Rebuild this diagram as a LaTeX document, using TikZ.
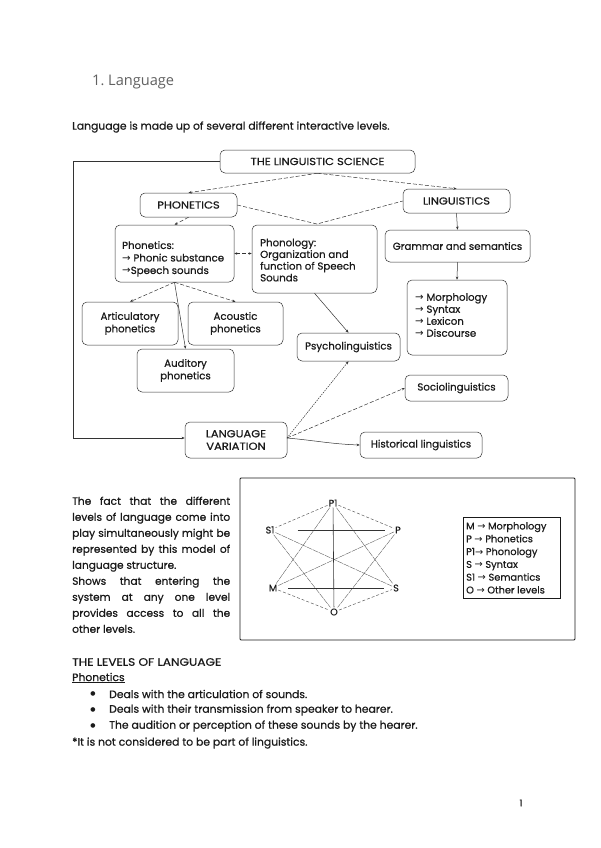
\documentclass[tikz,border=0pt]{standalone}
\usepackage{fontspec}
\setmainfont{Poppins}[FakeBold=0.6]
\newfontfamily\titlefont{Open Sans}
\newfontfamily\symfont{DejaVu Sans}
\usetikzlibrary{arrows.meta}
\newcommand{\rarr}{{\symfont\char"2192}}
\newcommand{\wide}[1]{\scalebox{1.13}[1]{#1}}
\newcommand{\jl}[1]{\makebox[158pt][l]{#1}}
\definecolor{ink}{HTML}{1A1A1A}
\definecolor{lineclr}{HTML}{333333}
\begin{document}
\begin{tikzpicture}[x=1pt,y=-1pt,
  box/.style={draw=lineclr, rounded corners=5pt, line width=0.5pt, inner sep=2pt,
    font=\fontsize{10.2}{12.5}\selectfont, text=ink, align=center},
  txt/.style={inner sep=0pt, text=ink, align=left},
  tip/.style={-{Stealth[length=3.2pt,width=2.6pt]}},
  conn/.style={draw=lineclr, line width=0.5pt},
  dconn/.style={conn, dash pattern=on 4pt off 2pt},
  dotconn/.style={conn, dash pattern=on 1.5pt off 1pt},
  star/.style={inner sep=1pt, text=ink, font=\fontsize{9.6}{11}\selectfont},
  sline/.style={draw=lineclr, line width=0.4pt},
  sdash/.style={draw=lineclr!80, line width=0.5pt, dash pattern=on 3pt off 2pt},
  sthin/.style={draw=lineclr!85, line width=0.35pt, dash pattern=on 6pt off 0.8pt},
  body/.style={txt, font=\fontsize{10.8}{13}\selectfont},
]
\path[fill=white] (0,0) rectangle (600,848);

% title and intro
\node[txt, anchor=west, font=\titlefont\fontsize{14.6}{18}\selectfont, text=black!62] (title) at (92,82) {1.\ Language};
\node[body, anchor=west] (intro) at (72,127) {Language is made up of several different interactive levels.};

% ---------- top diagram ----------
\node[box, minimum width=195pt, minimum height=23pt] (sci) at (317.5,161.5) {\wide{THE LINGUISTIC SCIENCE}};
\node[box, minimum width=97pt, minimum height=24pt] (phon) at (188.5,205) {\wide{PHONETICS}};
\node[box, minimum width=107pt, minimum height=24pt] (ling) at (456.5,201) {\wide{LINGUISTICS}};
\node[box, minimum width=119pt, minimum height=57pt] (phs) at (174.5,253.5) {};
\node[txt, anchor=north west, font=\fontsize{10.2}{12.5}\selectfont] (phst) at (122,241) {Phonetics:\\\rarr{} Phonic substance\\\rarr Speech sounds};
\node[box, minimum width=125pt, minimum height=68pt] (phl) at (314.5,259) {};
\node[txt, anchor=north west, font=\fontsize{10.2}{11.7}\selectfont] (phlt) at (260,238.5) {Phonology:\\Organization and\\function of Speech\\Sounds};
\node[box, minimum width=145pt, minimum height=32pt] (gram) at (457.5,246) {Grammar and semantics};
\node[box, minimum width=100pt, minimum height=75pt] (morph) at (457,317.5) {};
\node[txt, anchor=north west, font=\fontsize{10.2}{12}\selectfont] (morpht) at (415,293) {\rarr{} Morphology\\\rarr{} Syntax\\\rarr{} Lexicon\\\rarr{} Discourse};
\node[box, minimum width=96pt, minimum height=43pt] (art) at (130,323.5) {Articulatory\\phonetics};
\node[box, minimum width=95pt, minimum height=43pt] (aco) at (235.5,323.5) {Acoustic\\phonetics};
\node[box, minimum width=97pt, minimum height=43pt] (aud) at (185.5,370.5) {Auditory\\phonetics};
\node[box, minimum width=103pt, minimum height=28pt] (psy) at (348.5,347) {Psycholinguistics};
\node[box, minimum width=103pt, minimum height=26pt] (soc) at (456.5,388) {Sociolinguistics};
\node[box, minimum width=102pt, minimum height=36pt] (lv) at (236,440) {\wide{LANGUAGE}\\\wide{VARIATION}};
\node[box, minimum width=122pt, minimum height=26pt] (hist) at (421,445) {Historical linguistics};

\coordinate (apex) at (317,224);
\coordinate (fc1) at (73,161.5);
\coordinate (fc2) at (73,438);
\coordinate (lvout) at (287,438);

\draw[dconn, tip] (sci.south) -- (phon.north);
\draw[dconn, tip] (sci.south) -- (ling.north);
\draw[dconn] (phon.east) -- (apex) -- (ling.west);
\draw[dconn, tip] (phon.south) -- (phs.north);
\draw[dconn, {Stealth[length=3pt,width=2.4pt]}-{Stealth[length=3pt,width=2.4pt]}] (phs.east) -- (phs.east -| phl.west);
\draw[conn, tip] (ling.south) -- (gram.north);
\draw[conn, tip] (gram.south) -- (morph.north);
\draw[dconn, tip] (phs.south) -- (art.north);
\draw[dconn, tip] (phs.south) -- (aco.north);
\draw[conn, tip] (phs.south) -- (aud.north);
\draw[conn, tip] (phl.south) -- (psy.north);
\draw[conn, tip] (sci.west) -- (fc1) -- (fc2) -- (fc2 -| lv.west);
\draw[dotconn, tip] (lvout) -- (psy.south);
\draw[dconn, tip] (lvout) -- (soc.west);
\draw[conn, tip] (lvout) to[out=-5,in=178] (hist.west);

% ---------- paragraph ----------
\node[txt, anchor=north west, font=\fontsize{10.6}{16}\selectfont] (para) at (72,496.5) {%
\jl{The\hfill fact\hfill that\hfill the\hfill different}\\
\jl{levels\hfill of\hfill language\hfill come\hfill into}\\
\jl{play\hfill simultaneously\hfill might\hfill be}\\
\jl{represented\hfill by\hfill this\hfill model\hfill of}\\
language structure.\\
\jl{Shows\hfill that\hfill entering\hfill the}\\
\jl{system\hfill at\hfill any\hfill one\hfill level}\\
\jl{provides\hfill access\hfill to\hfill all\hfill the}\\
other levels.};

% ---------- model box ----------
\node[draw=ink, line width=0.9pt, rounded corners=1pt, minimum width=335pt, minimum height=162pt] (model) at (407.5,559) {};
\node[star] (P1) at (333,503) {P1};
\node[star] (S1) at (270,530) {S1};
\node[star] (P) at (398,530) {P};
\node[star] (M) at (273,588) {M};
\node[star] (S) at (396,588) {S};
\node[star] (O) at (334,612) {O};

\draw[sdash] (P1) -- (S1);
\draw[sdash] (P1) -- (P);
\draw[sdash] (M) -- (O);
\draw[sdash] (O) -- (S);
\draw[sthin] (P1) -- (M);
\draw[sthin] (P1) -- (S);
\draw[sthin] (S1) -- (S);
\draw[sthin] (S1) -- (O);
\draw[sthin] (P) -- (M);
\draw[sthin] (P) -- (O);
\draw[sline, line width=0.6pt] (P1) -- (O);
\draw[sline, line width=0.6pt, shorten <=22pt, shorten >=9pt] (S1) -- (P);
\draw[sline, line width=0.6pt, shorten <=10pt, shorten >=8pt] (M) -- (S);

\node[draw=ink, line width=0.6pt, minimum width=97pt, minimum height=81pt] (legend) at (511.5,557.5) {};
\node[txt, anchor=north west, font=\fontsize{9.8}{12.8}\selectfont] (legendt) at (466,522) {M \rarr{} Morphology\\P \rarr{} Phonetics\\P1\rarr{} Phonology\\S \rarr{} Syntax\\S1 \rarr{} Semantics\\O \rarr{} Other levels};

% ---------- levels ----------
\node[body, anchor=west] (lvl) at (72,662) {\wide{THE LEVELS OF LANGUAGE}};
\node[body, anchor=west] (phn) at (72,678) {\underline{Phonetics}};
\node[txt, anchor=center, font=\symfont\fontsize{6}{10}\selectfont] (b1) at (93,694) {\char"25CF};
\node[txt, anchor=center, font=\symfont\fontsize{6}{10}\selectfont] (b2) at (93,710) {\char"25CF};
\node[txt, anchor=center, font=\symfont\fontsize{6}{10}\selectfont] (b3) at (93,726) {\char"25CF};
\node[body, anchor=west] (t1) at (109,694) {Deals with the articulation of sounds.};
\node[body, anchor=west] (t2) at (109,710) {Deals with their transmission from speaker to hearer.};
\node[body, anchor=west] (t3) at (109,726) {The audition or perception of these sounds by the hearer.};
\node[body, anchor=west] (note) at (72,743) {*It is not considered to be part of linguistics.};
\node[txt, font=\fontsize{9.5}{11}\selectfont] (pg) at (521,803) {1};
\end{tikzpicture}
\end{document}
